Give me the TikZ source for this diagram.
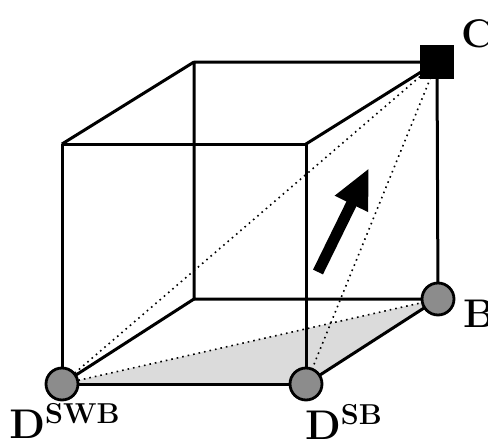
\documentclass[tikz,border=0pt]{standalone}
\usetikzlibrary{arrows.meta,positioning}
\tikzset{
  edge/.style={line width=1.5pt, line join=round},
  hidden/.style={dotted, line width=0.8pt},
  face/.style={fill=black!14},
  corner/.style={circle, draw, line width=1.4pt, fill=black!45,
    minimum size=16pt, inner sep=0pt},
  target/.style={rectangle, fill=black, minimum size=17pt, inner sep=0pt},
  lbl/.style={font=\fontsize{20}{23}\selectfont\bfseries, inner sep=0pt},
  bigarrow/.style={-{Triangle[length=20pt,width=17pt]}, line width=5.5pt}
}
\begin{document}
\begin{tikzpicture}[x=0.5pt, y=-0.5pt]
  \useasboundingbox (0,0) rectangle (488,439);
  % cube corners
  \coordinate (ftl) at (62,144);
  \coordinate (ftr) at (306,144);
  \coordinate (fbl) at (62,384);
  \coordinate (fbr) at (306,384);
  \coordinate (btl) at (194,62);
  \coordinate (btr) at (437,62);
  \coordinate (bbl) at (194,299);
  \coordinate (bbr) at (438,299);
  % shaded bottom triangle
  \fill[face] (fbl) -- (fbr) -- (bbr) -- cycle;
  % edges
  \draw[edge] (ftl) -- (ftr) -- (fbr) -- (fbl) -- cycle;
  \draw[edge] (btl) -- (btr) -- (bbr) -- (bbl) -- cycle;
  \draw[edge] (ftl) -- (btl);
  \draw[edge] (ftr) -- (btr);
  \draw[edge] (fbl) -- (bbl);
  \draw[edge] (fbr) -- (bbr);
  % diagonals
  \draw[hidden] (btr) -- (fbl);
  \draw[hidden] (btr) -- (fbr);
  \draw[hidden] (fbl) -- (bbr);
  % direction
  \coordinate (tail) at (318,272);
  \coordinate (head) at (369,168);
  \draw[bigarrow] (tail) -- (head);
  % markers
  \node[corner] (swb) at (fbl) {};
  \node[corner] (sb) at (fbr) {};
  \node[corner] (b) at (bbr) {};
  \node[target] (c) at (btr) {};
  % labels
  \node[lbl] (lswb) at (65,421) {$\mathbf{D}^{\mathbf{SWB}}$};
  \node[lbl] (lsb) at (344,422) {$\mathbf{D}^{\mathbf{SB}}$};
  \node[lbl] (lb) at (479,314) {B};
  \node[lbl] (lc) at (478,34) {C};
\end{tikzpicture}
\end{document}
